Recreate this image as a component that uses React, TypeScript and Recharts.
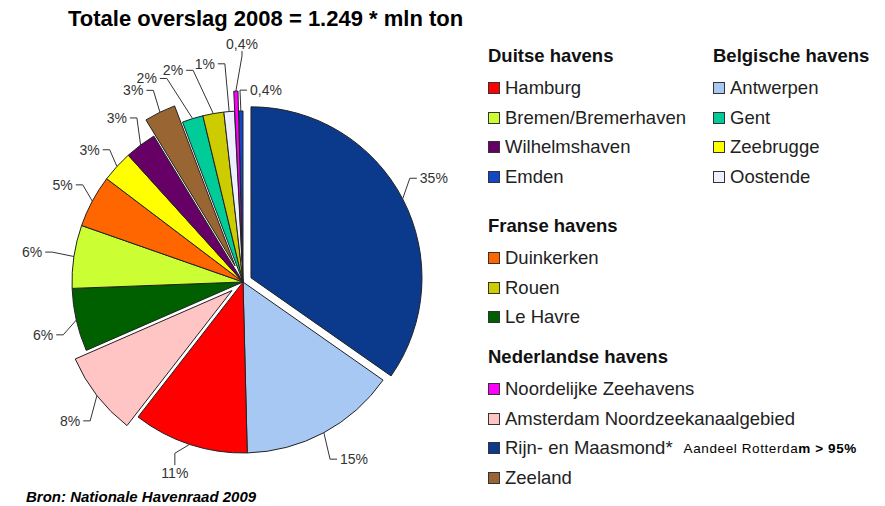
import React from "react";
import { PieChart, Pie, Cell } from "recharts";

// pie slices, clockwise from 12 o'clock
const PORTS = [
  "Rijn- en Maasmond*",
  "Antwerpen",
  "Hamburg",
  "Amsterdam Noordzeekanaalgebied",
  "Le Havre",
  "Bremen/Bremerhaven",
  "Duinkerken",
  "Zeebrugge",
  "Wilhelmshaven",
  "Zeeland",
  "Gent",
  "Rouen",
  "Oostende",
  "Noordelijke Zeehavens",
  "Emden",
];
const SHARES = [35, 15, 11, 8, 6, 6, 5, 3, 3, 3, 2, 2, 1, 0.4, 0.4];

// legend groups
const GERMAN = ["Hamburg", "Bremen/Bremerhaven", "Wilhelmshaven", "Emden"];
const BELGIAN = ["Antwerpen", "Gent", "Zeebrugge", "Oostende"];
const FRENCH = ["Duinkerken", "Rouen", "Le Havre"];
const DUTCH = [
  "Noordelijke Zeehavens",
  "Amsterdam Noordzeekanaalgebied",
  "Rijn- en Maasmond*",
  "Zeeland",
];

const PORT_COLORS: Record<string, string> = {
  "Rijn- en Maasmond*": "#0b3a8c",
  Antwerpen: "#a8c8f4",
  Hamburg: "#ff0000",
  "Amsterdam Noordzeekanaalgebied": "#ffc4c4",
  "Le Havre": "#006000",
  "Bremen/Bremerhaven": "#ccff33",
  Duinkerken: "#ff6600",
  Zeebrugge: "#ffff00",
  Wilhelmshaven: "#660066",
  Zeeland: "#996633",
  Gent: "#00cc99",
  Rouen: "#cccc00",
  Oostende: "#eef0ff",
  "Noordelijke Zeehavens": "#ff00ff",
  Emden: "#1048c8",
};

// how far each slice is pulled out of the pie (px)
const EXPLODE = [9, 0, 0, 14, 0, 0, 0, 0, 0, 18, 0, 0, 0, 20, 0];

// label placement: angle nudge (deg), radius, text anchor
const LABEL_LAYOUT: [number, number, string][] = [
  [2.9, 205, "start"],
  [0.5, 202, "start"],
  [-1.4, 203, "middle"],
  [2.6, 214, "end"],
  [2.7, 197, "end"],
  [0.1, 203, "end"],
  [-1.5, 196, "end"],
  [-0.2, 195, "end"],
  [-1.5, 201, "end"],
  [1.4, 216, "end"],
  [5.8, 221, "end"],
  [5.8, 220, "end"],
  [2.7, 220, "end"],
  [-1.9, 238, "middle"],
  [-2.8, 192, "start"],
];

const CX = 243;
const CY = 282;
const R = 171;
const RAD = Math.PI / 180;
const FONT = "'Liberation Sans', Arial, sans-serif";

const data = PORTS.map((name, i) => ({ name, value: SHARES[i] }));
const total = SHARES.reduce((s, v) => s + v, 0);

const midAngleOf = (i: number) => {
  const before = SHARES.slice(0, i).reduce((s, v) => s + v, 0);
  return 90 - (360 * (before + SHARES[i] / 2)) / total;
};

const fmt = (v: number) => `${String(v).replace(".", ",")}%`;

const renderLabel = (p: any) => {
  const { cx, cy, midAngle, outerRadius, index, value } = p;
  const [dA, rr, anchor] = LABEL_LAYOUT[index];
  const a = (midAngle + dA) * RAD;
  const x = cx + rr * Math.cos(a);
  const y = cy - rr * Math.sin(a);
  const m = midAngle * RAD;
  const ex = EXPLODE[index];
  const ax = cx + (outerRadius + ex) * Math.cos(m);
  const ay = cy - (outerRadius + ex) * Math.sin(m);
  let e: number[];
  let b: number[];
  if (anchor === "start") {
    e = [x - 3, y];
    b = [x - 10, y];
  } else if (anchor === "end") {
    e = [x + 3, y];
    b = [x + 10, y];
  } else if (y < cy) {
    e = [x, y + 7];
    b = [x, y + 12];
  } else {
    e = [x, y - 8];
    b = [x, y - 20];
  }
  return (
    <g key={`lbl-${index}`}>
      <polyline
        points={`${e[0]},${e[1]} ${b[0]},${b[1]} ${ax},${ay}`}
        fill="none"
        stroke="#333"
        strokeWidth={1}
      />
      <text
        x={x}
        y={y}
        textAnchor={anchor as any}
        dominantBaseline="central"
        fontSize={14}
        fontFamily={FONT}
        fill="#333"
      >
        {fmt(value)}
      </text>
    </g>
  );
};

const LegendGroup = ({
  title,
  items,
  x,
  y,
}: {
  title: string;
  items: string[];
  x: number;
  y: number;
}) => (
  <>
    <div
      style={{
        position: "absolute",
        left: x,
        top: y - 11,
        height: 22,
        lineHeight: "22px",
        fontWeight: "bold",
        fontSize: 18.5,
        color: "#111",
        whiteSpace: "nowrap",
      }}
    >
      {title}
    </div>
    {items.map((name, i) => (
      <div
        key={name}
        style={{
          position: "absolute",
          left: x,
          top: y + 32 + i * 29.7 - 11,
          height: 22,
          display: "flex",
          alignItems: "center",
          whiteSpace: "nowrap",
          fontSize: 18.5,
          color: "#222",
        }}
      >
        <span
          style={{
            display: "inline-block",
            width: 10,
            height: 10,
            border: "1px solid #333",
            background: PORT_COLORS[name],
            marginRight: 5,
          }}
        />
        <span>{name}</span>
        {name === "Rijn- en Maasmond*" && (
          <span
            style={{
              fontSize: 13.5,
              letterSpacing: 0.6,
              marginLeft: 11,
              color: "#000",
            }}
          >
            Aandeel Rotterda<b>m &gt; 95%</b>
          </span>
        )}
      </div>
    ))}
  </>
);

export default function App() {
  return (
    <div
      style={{
        position: "relative",
        width: 885,
        height: 506,
        background: "#fff",
        fontFamily: FONT,
        overflow: "hidden",
      }}
    >
      <style>{"body{margin:0}"}</style>
      <div
        style={{
          position: "absolute",
          left: 68,
          top: 8,
          lineHeight: "22px",
          fontSize: 22,
          fontWeight: "bold",
          color: "#000",
          whiteSpace: "nowrap",
        }}
      >
        Totale overslag 2008 = 1.249 * mln ton
      </div>
      <PieChart width={885} height={506} margin={{ top: 0, right: 0, bottom: 0, left: 0 }}>
        <Pie
          data={data}
          dataKey="value"
          nameKey="name"
          cx={CX}
          cy={CY}
          outerRadius={R}
          startAngle={90}
          endAngle={-270}
          isAnimationActive={false}
          label={renderLabel}
          labelLine={false}
        >
          {data.map((d, i) => (
            <Cell
              key={`base-${i}`}
              fill={EXPLODE[i] ? "none" : PORT_COLORS[d.name]}
              stroke={EXPLODE[i] ? "none" : "#222"}
              strokeWidth={1}
            />
          ))}
        </Pie>
        {EXPLODE.map((ex, j) => {
          if (!ex) return null;
          const m = midAngleOf(j) * RAD;
          return (
            <Pie
              key={`exp-${j}`}
              data={data}
              dataKey="value"
              nameKey="name"
              cx={CX + ex * Math.cos(m)}
              cy={CY - ex * Math.sin(m)}
              outerRadius={R}
              startAngle={90}
              endAngle={-270}
              isAnimationActive={false}
            >
              {data.map((d, i) => (
                <Cell
                  key={`exp-${j}-${i}`}
                  fill={i === j ? PORT_COLORS[d.name] : "none"}
                  stroke={i === j ? "#222" : "none"}
                  strokeWidth={1}
                />
              ))}
            </Pie>
          );
        })}
      </PieChart>
      <LegendGroup title="Duitse havens" items={GERMAN} x={488} y={56} />
      <LegendGroup title="Belgische havens" items={BELGIAN} x={713} y={56} />
      <LegendGroup title="Franse havens" items={FRENCH} x={488} y={226} />
      <LegendGroup title="Nederlandse havens" items={DUTCH} x={488} y={357} />
      <div
        style={{
          position: "absolute",
          left: 26,
          top: 489,
          lineHeight: "16px",
          fontSize: 15,
          fontWeight: "bold",
          fontStyle: "italic",
          color: "#000",
          whiteSpace: "nowrap",
        }}
      >
        Bron: Nationale Havenraad 2009
      </div>
    </div>
  );
}
